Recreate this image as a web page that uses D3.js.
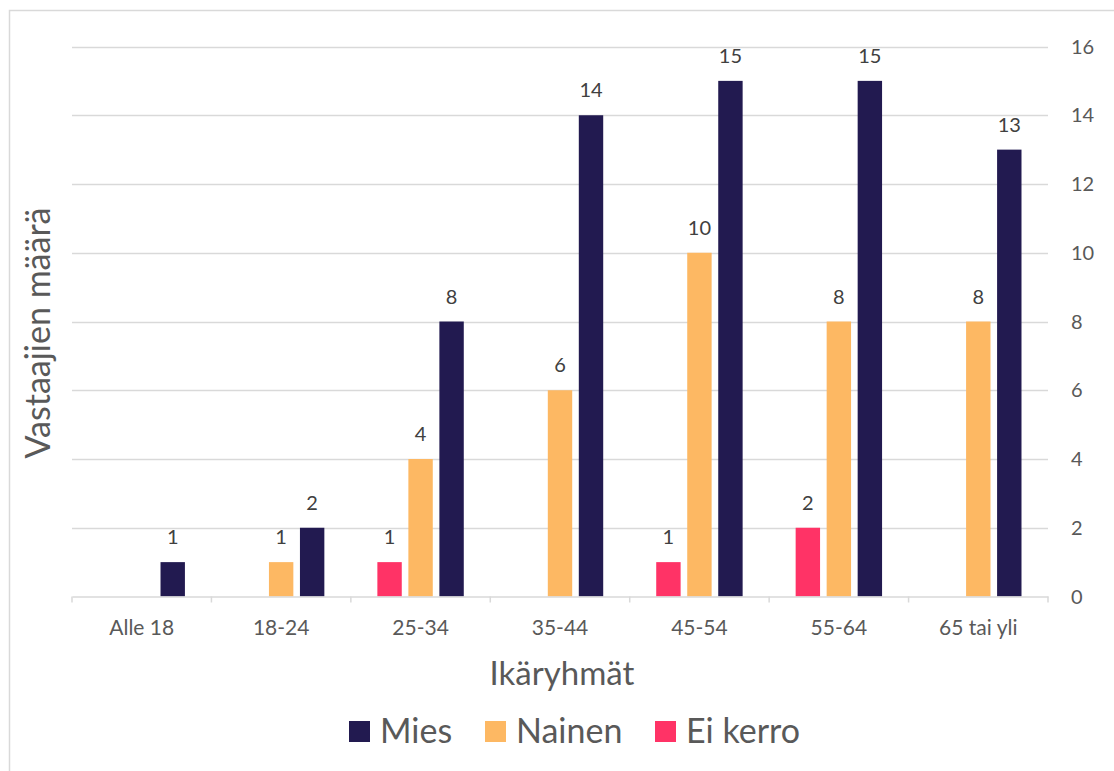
<!DOCTYPE html>
<html>
<head>
<meta charset="utf-8">
<script src="https://cdn.jsdelivr.net/npm/d3@7"></script>
<style>
	body { margin: 0; background: #fff; }
	svg { display: block; font-family: Lato, "Open Sans", sans-serif; }
</style>
</head>
<body>
<div id="chart"></div>
<script>
var categories = ['Alle 18', '18-24', '25-34', '35-44', '45-54', '55-64', '65 tai yli'];
var seriesNames = ['Ei kerro', 'Nainen', 'Mies'];
var eiKerro = [0, 0, 1, 0, 1, 2, 0];
var nainen = [0, 1, 4, 6, 10, 8, 8];
var mies = [1, 2, 8, 14, 15, 15, 13];
var yTicks = [0, 2, 4, 6, 8, 10, 12, 14, 16];
var legendOrder = ['Mies', 'Nainen', 'Ei kerro'];

var colors = { 'Mies': '#221a50', 'Nainen': '#fdb863', 'Ei kerro': '#ff3366' };
var seriesValues = { 'Ei kerro': eiKerro, 'Nainen': nainen, 'Mies': mies };

var w = 1114, h = 771;
var plotLeft = 72, plotRight = 1048, plotTop = 46.5, plotBottom = 596.5;

var svg = d3.select('#chart')
	.append('svg')
	.attr('width', w)
	.attr('height', h);

// outer frame (only top/left visible in the picture)
svg.append('path')
	.attr('d', 'M9.5,' + h + 'V10.5H' + w)
	.attr('fill', 'none')
	.attr('stroke', '#d9d9d9')
	.attr('stroke-width', 1.5);

var x = d3.scaleBand().domain(categories).range([plotLeft, plotRight]);
var xInner = d3.scaleBand().domain(seriesNames).range([0, x.bandwidth()])
	.paddingInner(0.213).paddingOuter(0.855);
var y = d3.scaleLinear().domain([0, 16]).range([plotBottom, plotTop]);

// gridlines
svg.append('g')
	.selectAll('line')
	.data(yTicks.filter(function(d){ return d > 0; }))
	.enter()
	.append('line')
	.attr('x1', plotLeft).attr('x2', plotRight)
	.attr('y1', function(d){ return Math.round(y(d)) + 0.5; })
	.attr('y2', function(d){ return Math.round(y(d)) + 0.5; })
	.attr('stroke', '#d9d9d9')
	.attr('stroke-width', 1.5);

// right axis labels
svg.append('g')
	.selectAll('text')
	.data(yTicks)
	.enter()
	.append('text')
	.attr('x', 1071)
	.attr('y', function(d){ return y(d) + 7; })
	.attr('fill', '#595959')
	.style('font-size', '20px')
	.text(function(d){ return d; });

// bars
var data = [];
categories.forEach(function(c, i){
	seriesNames.forEach(function(s){
		data.push({ cat: c, series: s, val: seriesValues[s][i] });
	});
});

var shown = data.filter(function(d){ return d.val > 0; });

svg.append('g')
	.selectAll('rect')
	.data(shown)
	.enter()
	.append('rect')
	.attr('x', function(d){ return x(d.cat) + xInner(d.series); })
	.attr('width', xInner.bandwidth())
	.attr('y', function(d){ return y(d.val); })
	.attr('height', function(d){ return plotBottom - y(d.val); })
	.attr('fill', function(d){ return colors[d.series]; });

svg.append('g')
	.selectAll('text')
	.data(shown)
	.enter()
	.append('text')
	.attr('x', function(d){ return x(d.cat) + xInner(d.series) + xInner.bandwidth() / 2; })
	.attr('y', function(d){ return y(d.val) - 18; })
	.attr('text-anchor', 'middle')
	.attr('fill', '#404040')
	.style('font-size', '20px')
	.text(function(d){ return d.val; });

// x axis
var xAxis = d3.axisBottom(x).tickSize(0).tickPadding(0);
var gx = svg.append('g').attr('transform', 'translate(0,' + plotBottom + ')').call(xAxis);
gx.select('.domain').attr('stroke', '#d9d9d9').attr('stroke-width', 1.5);
gx.selectAll('.tick text')
	.attr('y', 38)
	.attr('dy', 0)
	.attr('fill', '#595959')
	.style('font-size', '21px')
	.style('font-family', 'Lato, "Open Sans", sans-serif');
var bounds = categories.map(function(c){ return x(c); }).concat([plotRight]);
gx.selectAll('line.sep')
	.data(bounds)
	.enter()
	.append('line')
	.attr('class', 'sep')
	.attr('x1', function(d){ return d; }).attr('x2', function(d){ return d; })
	.attr('y1', 0).attr('y2', 6)
	.attr('stroke', '#d9d9d9')
	.attr('stroke-width', 1.5);

// axis titles
svg.append('text')
	.attr('x', 562)
	.attr('y', 685)
	.attr('text-anchor', 'middle')
	.attr('fill', '#595959')
	.style('font-size', '33px')
	.text('Ikäryhmät');

svg.append('text')
	.attr('transform', 'translate(50,333) rotate(-90)')
	.attr('text-anchor', 'middle')
	.attr('fill', '#595959')
	.style('font-size', '34px')
	.text('Vastaajien määrä');

// legend
var legendX = [349, 485, 655];
var legend = svg.append('g')
	.selectAll('g')
	.data(legendOrder)
	.enter()
	.append('g')
	.attr('transform', function(d, i){ return 'translate(' + legendX[i] + ',721)'; });

legend.append('rect')
	.attr('width', 21).attr('height', 21)
	.attr('fill', function(d){ return colors[d]; });

legend.append('text')
	.attr('x', 31)
	.attr('y', 22)
	.attr('fill', '#595959')
	.style('font-size', '34px')
	.text(function(d){ return d; });
</script>
</body>
</html>
